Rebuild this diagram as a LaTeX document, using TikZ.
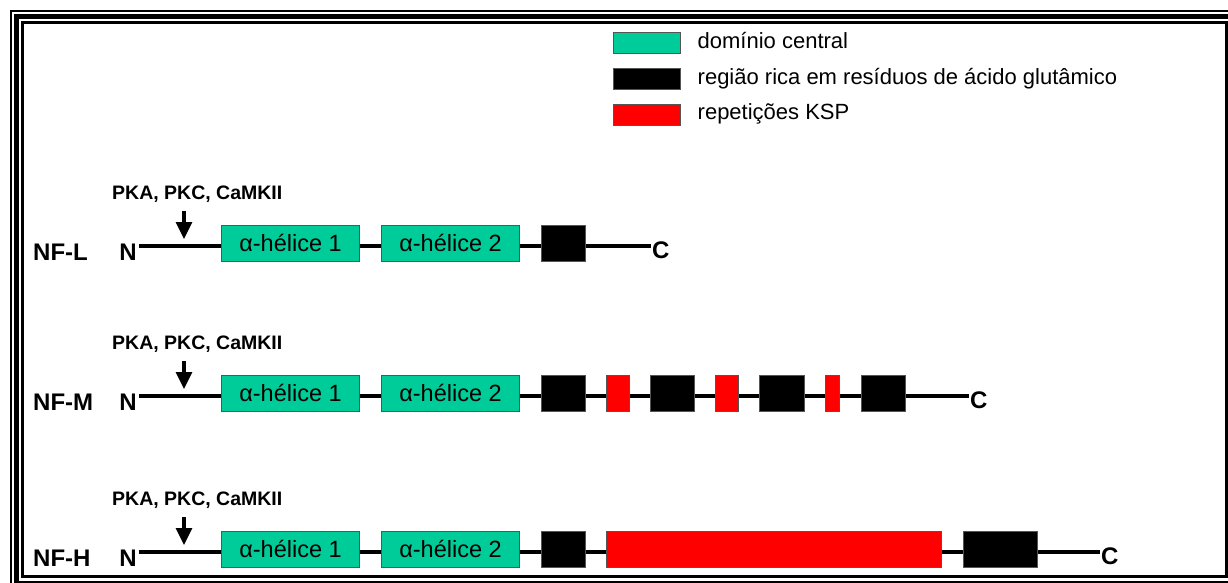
\documentclass[tikz,border=0pt]{standalone}
\usepackage{fontspec}
\setmainfont{Liberation Sans}
\usepackage{tikz}
\usetikzlibrary{arrows.meta,positioning}
\definecolor{domgreen}{RGB}{0,204,153}
\definecolor{kspred}{RGB}{255,0,0}
\definecolor{boxedge}{RGB}{85,85,85}

\begin{document}
\begin{tikzpicture}[x=1pt,y=-1pt,
  bb/.style={line width=3.5pt},
  helix/.style={draw=boxedge,line width=1pt,fill=domgreen,minimum width=138pt,minimum height=36pt,inner sep=0pt,anchor=west,font=\fontsize{23.5}{26}\selectfont},
  glu/.style={draw=boxedge,line width=1pt,fill=black,minimum height=36pt,inner sep=0pt,anchor=west},
  rep/.style={draw=boxedge,line width=1pt,fill=kspred,minimum height=36pt,inner sep=0pt,anchor=west},
  prot/.style={font=\bfseries\fontsize{24}{28}\selectfont,inner sep=0pt},
  kin/.style={font=\bfseries\fontsize{19.5}{22}\selectfont,inner sep=0pt,anchor=base west},
  kinarr/.style={-{Triangle[width=16pt,length=17pt]},line width=3.2pt},
  leg/.style={draw=boxedge,line width=1pt,minimum width=67pt,minimum height=21pt,inner sep=0pt},
  legtxt/.style={font=\fontsize{22}{26}\selectfont,inner sep=0pt,anchor=base west}]
\clip (0,0) rectangle (1228,582);
% frame
\draw[line width=2pt] (11,10.5) rectangle (1260,610);
\draw[line width=5pt] (16.5,16.5) rectangle (1250,583);
\draw[line width=3pt] (22.5,22.5) rectangle (1226.5,576);

% legend
\node[leg,fill=domgreen] (lgA) at (646.5,42.5) {};
\node[leg,fill=black] (lgB) at (646.5,78.5) {};
\node[leg,fill=kspred] (lgC) at (646.5,114.5) {};
\node[legtxt] (ltA) at ([xshift=17pt,yshift=-6pt]lgA.east) {domínio central};
\node[legtxt] (ltB) at ([xshift=17pt,yshift=-5.5pt]lgB.east) {região rica em resíduos de ácido glutâmico};
\node[legtxt] (ltC) at ([xshift=17pt,yshift=-5pt]lgC.east) {repetições KSP};

% NF-L
\coordinate (sL) at (139,246);
\coordinate (eL) at (651,246);
\draw[bb] (sL) -- (eL);
\node[prot,anchor=base west] (nfL) at (33,260) {NF-L};
\node[prot,anchor=base east] (nL) at ([xshift=-2pt,yshift=-14pt]sL) {N};
\node[prot,anchor=base west] (cL) at ([xshift=1pt,yshift=-12pt]eL) {C};
\node[helix] (hL1) at (221,243) {α-hélice 1};
\node[helix] (hL2) at (381,243) {α-hélice 2};
\node[glu,minimum width=44pt] (gL1) at (541,243) {};
\node[kin] (kL) at (112,199) {PKA, PKC, CaMKII};
\coordinate (aLt) at (184,211);
\coordinate (aL) at (184,239);
\draw[kinarr] (aLt) -- (aL);

% NF-M
\coordinate (sM) at (139,396);
\coordinate (eM) at (969,396);
\draw[bb] (sM) -- (eM);
\node[prot,anchor=base west] (nfM) at (33,410) {NF-M};
\node[prot,anchor=base east] (nM) at ([xshift=-2pt,yshift=-14pt]sM) {N};
\node[prot,anchor=base west] (cM) at ([xshift=1pt,yshift=-12pt]eM) {C};
\node[helix] (hM1) at (221,393) {α-hélice 1};
\node[helix] (hM2) at (381,393) {α-hélice 2};
\node[glu,minimum width=44pt] (gM1) at (541,393) {};
\node[rep,minimum width=23pt] (rM1) at (606,393) {};
\node[glu,minimum width=44pt] (gM2) at (650,393) {};
\node[rep,minimum width=23pt] (rM2) at (715,393) {};
\node[glu,minimum width=45pt] (gM3) at (759,393) {};
\node[rep,minimum width=14pt] (rM3) at (825,393) {};
\node[glu,minimum width=44pt] (gM4) at (861,393) {};
\node[kin] (kM) at (112,349) {PKA, PKC, CaMKII};
\coordinate (aMt) at (184,361);
\coordinate (aM) at (184,389);
\draw[kinarr] (aMt) -- (aM);

% NF-H
\coordinate (sH) at (139,552);
\coordinate (eH) at (1100,552);
\draw[bb] (sH) -- (eH);
\node[prot,anchor=base west] (nfH) at (33,566) {NF-H};
\node[prot,anchor=base east] (nH) at ([xshift=-2pt,yshift=-14pt]sH) {N};
\node[prot,anchor=base west] (cH) at ([xshift=1pt,yshift=-12pt]eH) {C};
\node[helix] (hH1) at (221,549) {α-hélice 1};
\node[helix] (hH2) at (381,549) {α-hélice 2};
\node[glu,minimum width=44pt] (gH1) at (541,549) {};
\node[rep,minimum width=335pt] (rH1) at (606,549) {};
\node[glu,minimum width=74pt] (gH2) at (963,549) {};
\node[kin] (kH) at (112,505) {PKA, PKC, CaMKII};
\coordinate (aHt) at (184,517);
\coordinate (aH) at (184,545);
\draw[kinarr] (aHt) -- (aH);
\end{tikzpicture}
\end{document}
